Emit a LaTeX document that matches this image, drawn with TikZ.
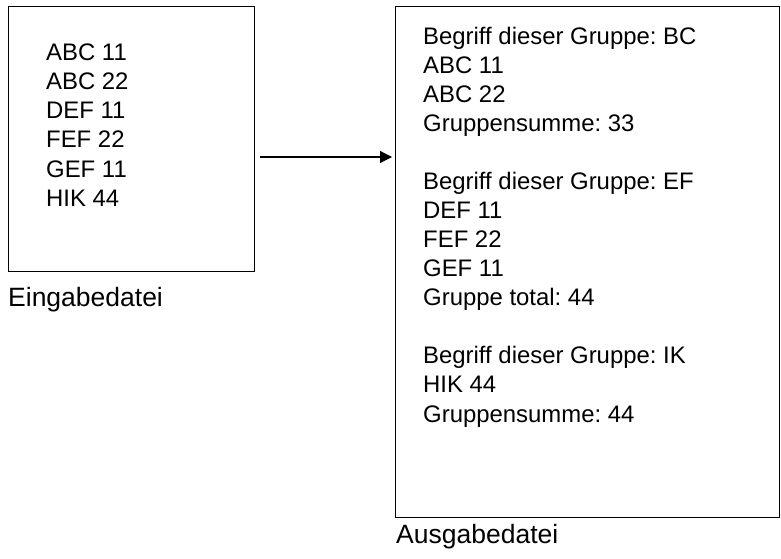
\documentclass[tikz,border=0pt]{standalone}
\usepackage{fontspec}
\setmainfont{Liberation Sans}
\usetikzlibrary{arrows.meta}
\frenchspacing
\begin{document}
\begin{tikzpicture}[x=1pt,y=-1pt,
  filebox/.style={draw,line width=1.2pt,inner sep=0pt,anchor=north west},
  entry/.style={anchor=base west,inner sep=0pt,font=\fontsize{23.9}{28}\selectfont},
  caption/.style={anchor=base west,inner sep=0pt,font=\fontsize{26.5}{30}\selectfont},
  flow/.style={line width=1.2pt,-{Triangle[length=12pt,width=12pt]}}]
\useasboundingbox (0,0) rectangle (781,558);
% file boxes
\node[filebox,minimum width=246pt,minimum height=265pt] (inbox) at (8,6) {};
\node[filebox,minimum width=384pt,minimum height=511pt] (outbox) at (395,6) {};
% input records
\foreach \t [count=\i from 0] in {ABC 11,ABC 22,DEF 11,FEF 22,GEF 11,HIK 44}
  \node[entry] (in\i) at (46,60+29.3*\i) {\t};
% output listing
\foreach \t [count=\i from 0] in {Begriff dieser Gruppe: BC,ABC 11,ABC 22,Gruppensumme: 33,,Begriff dieser Gruppe: EF,DEF 11,FEF 22,GEF 11,Gruppe total: 44,,Begriff dieser Gruppe: IK,HIK 44,Gruppensumme: 44}
  \node[entry] (out\i) at (423,44+29.08*\i) {\t};
% captions
\node[caption] (incap) at (8,306.5) {Eingabedatei};
\node[caption] (outcap) at (396,543) {Ausgabedatei};
% transformation arrow
\coordinate (ay) at (0,157);
\draw[flow,shorten <=5pt,shorten >=3pt] (inbox.east |- ay) -- (outbox.west |- ay);
\end{tikzpicture}
\end{document}
